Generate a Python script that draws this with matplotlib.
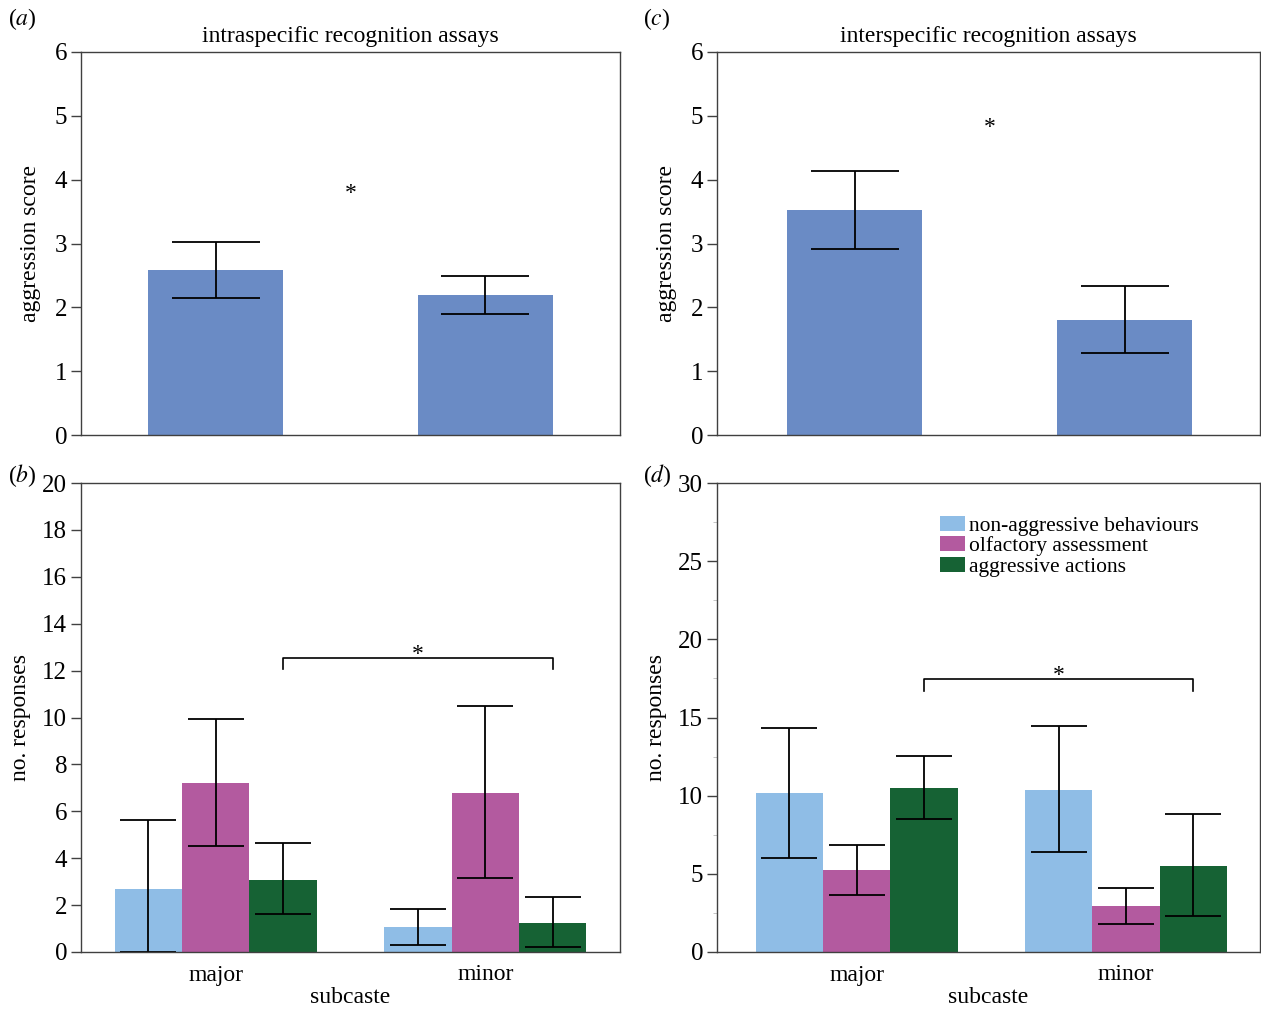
import matplotlib
matplotlib.use("Agg")
import matplotlib.pyplot as plt
from matplotlib.ticker import MultipleLocator
import numpy as np

plt.rcParams['font.family'] = ['Liberation Serif', 'DejaVu Serif']
plt.rcParams['mathtext.fontset'] = 'stix'

# aggression score panels (a) intraspecific, (c) interspecific
subcastes = ["major", "minor"]
intra_mean = [2.58, 2.19]
intra_hi = [3.02, 2.49]
intra_lo = [2.14, 1.89]
inter_mean = [3.52, 1.80]
inter_hi = [4.14, 2.33]
inter_lo = [2.91, 1.28]

# response counts panels (b) and (d)
behaviours = ["non-aggressive behaviours", "olfactory assessment", "aggressive actions"]
intra_resp_mean = [[2.70, 1.05], [7.20, 6.80], [3.09, 1.25]]
intra_resp_hi = [[5.62, 1.85], [9.95, 10.48], [4.63, 2.33]]
intra_resp_lo = [[0.0, 0.30], [4.50, 3.14], [1.60, 0.22]]
inter_resp_mean = [[10.15, 10.39], [5.23, 2.92], [10.52, 5.50]]
inter_resp_hi = [[14.31, 14.45], [6.87, 4.11], [12.56, 8.80]]
inter_resp_lo = [[5.99, 6.42], [3.63, 1.82], [8.53, 2.29]]

bar_blue = "#6a8bc5"
colors = ["#8fbde6", "#b35a9f", "#166234"]
spine_col = "#404040"

fig = plt.figure(figsize=(12.61, 10.09), dpi=100)
W, H = 1261, 1009


def add_ax(left, top, right, bottom):
    return fig.add_axes([left / W, 1 - bottom / H, (right - left) / W, (bottom - top) / H])


def style(ax, xlim):
    for s in ax.spines.values():
        s.set_color(spine_col)
        s.set_linewidth(1.0)
    ax.tick_params(axis='y', direction='out', length=7, width=1, color=spine_col,
                   labelsize=18, pad=3)
    ax.tick_params(axis='x', length=0, labelsize=17, pad=9)
    ax.set_xlim(*xlim)


def score_panel(ax, mean, hi, lo, title, star_y, xlim):
    x = np.arange(len(mean))
    mean = np.array(mean)
    yerr = [mean - np.array(lo), np.array(hi) - mean]
    ax.bar(x, mean, width=0.5, color=bar_blue)
    ax.errorbar(x, mean, yerr=yerr, fmt='none', ecolor='black', elinewidth=1.3,
                capsize=32, capthick=1.3)
    ax.set_ylim(0, 6)
    ax.set_yticks(range(0, 7))
    ax.set_xticks([])
    ax.set_ylabel("aggression score", fontsize=17, labelpad=10)
    ax.set_title(title, fontsize=17, pad=7)
    ax.text(0.5, star_y, "*", ha='center', va='center', fontsize=17)
    style(ax, xlim)


def resp_panel(ax, means, his, los, ymax, step, bracket_y, leg_h, star_y, xlim):
    x = np.arange(len(subcastes))
    for i in range(3):
        m = np.array(means[i])
        yerr = [m - np.array(los[i]), np.array(his[i]) - m]
        xi = x + (i - 1) * 0.25
        ax.bar(xi, m, width=0.25, color=colors[i], label=behaviours[i])
        ax.errorbar(xi, m, yerr=yerr, fmt='none', ecolor='black', elinewidth=1.3,
                    capsize=20, capthick=1.3)
    ax.set_ylim(0, ymax)
    ax.set_yticks(np.arange(0, ymax + 1, step))
    ax.set_xticks(x)
    ax.set_xticklabels(subcastes)
    ax.set_ylabel("no. responses", fontsize=17, labelpad=8)
    ax.set_xlabel("subcaste", fontsize=17, labelpad=1)
    # significance bracket between aggressive actions bars
    x0, x1 = 0.25, 1.25
    ax.plot([x0, x0, x1, x1], [bracket_y - leg_h, bracket_y, bracket_y, bracket_y - leg_h],
            color='black', lw=1.2)
    ax.text((x0 + x1) / 2, star_y, "*", ha='center', va='center', fontsize=17)
    style(ax, xlim)


ax_a = add_ax(81, 52, 620, 435)
score_panel(ax_a, intra_mean, intra_hi, intra_lo, "intraspecific recognition assays", 3.79,
            (-0.5, 1.5))
ax_c = add_ax(717, 52, 1260, 435)
score_panel(ax_c, inter_mean, inter_hi, inter_lo, "interspecific recognition assays", 4.81,
            (-0.511, 1.5))

ax_b = add_ax(81, 483, 620, 952)
resp_panel(ax_b, intra_resp_mean, intra_resp_hi, intra_resp_lo, 20, 2, 12.55, 0.5, 12.67,
           (-0.5, 1.5))
ax_d = add_ax(717, 483, 1260, 952)
resp_panel(ax_d, inter_resp_mean, inter_resp_hi, inter_resp_lo, 30, 5, 17.45, 0.75, 17.66,
           (-0.518, 1.497))
ax_d.yaxis.set_minor_locator(MultipleLocator(2.5))
ax_d.tick_params(axis='y', which='minor', length=3, color='#bbbbbb')
ax_d.legend(loc='upper left', bbox_to_anchor=(0.41, 0.93), frameon=False, fontsize=15.5,
            handlelength=1.2, handleheight=0.7, handletextpad=0.15, labelspacing=0.02,
            borderpad=0, borderaxespad=0)

for lab, px, py in [("a", 8, 19), ("b", 8, 476), ("c", 643, 19), ("d", 643, 476)]:
    fig.text(px / W, 1 - py / H, "(" + r"$\it{" + lab + "}$" + ")", ha='left', va='center',
             fontsize=17)

fig.savefig("out.png", dpi=100)
